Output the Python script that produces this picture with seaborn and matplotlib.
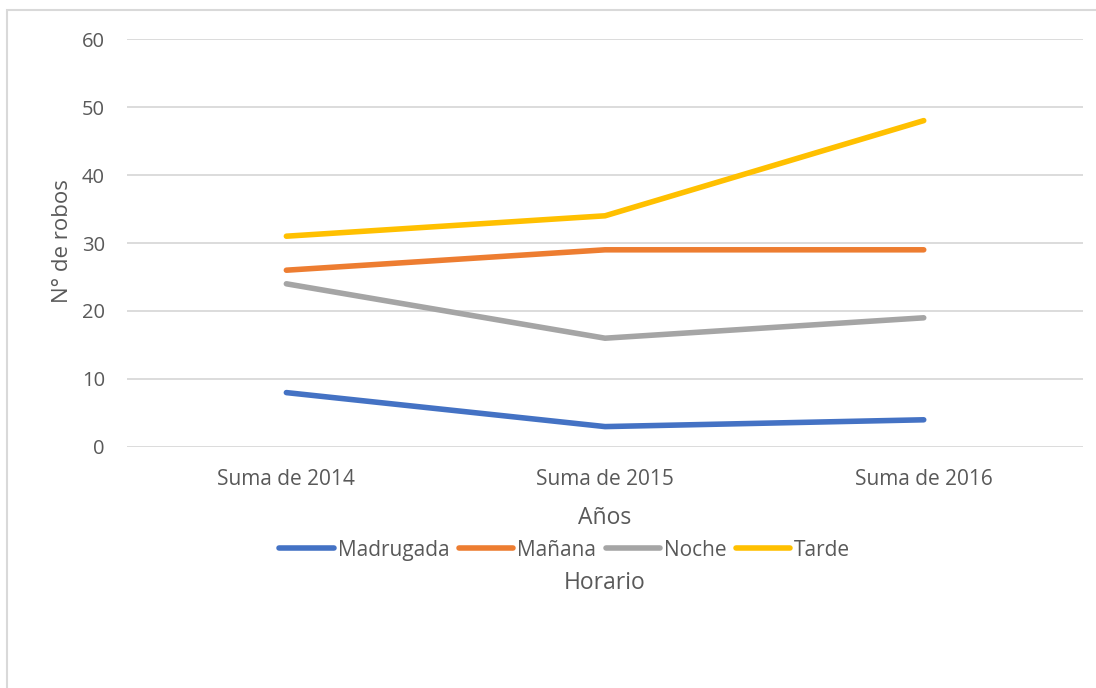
import pandas as pd
import seaborn as sns
from matplotlib import pyplot as plt
from matplotlib.patches import Rectangle

# Data
years = ['Suma de 2014', 'Suma de 2015', 'Suma de 2016']
horarios = ['Madrugada', 'Mañana', 'Noche', 'Tarde']
madrugada = [8, 3, 4]
manana = [26, 29, 29]
noche = [24, 16, 19]
tarde = [31, 34, 48]
colors = ['#4472C4', '#ED7D31', '#A5A5A5', '#FFC000']

# Long format table for seaborn
df = pd.DataFrame({
    'year': years * 4,
    'horario': [h for h in horarios for _ in years],
    'robos': madrugada + manana + noche + tarde,
})

sns.set_style('white')
plt.rcParams['font.family'] = ['Open Sans', 'DejaVu Sans']

fig = plt.figure(figsize=(10.96, 6.88), dpi=100)
ax = fig.add_axes([0.1159, 0.3503, 0.8723, 0.5930])

sns.lineplot(data=df, x='year', y='robos', hue='horario', hue_order=horarios,
             palette=colors, linewidth=4, sort=False, ax=ax,
             solid_capstyle='round')

# Axes look
ax.set_xlim(-0.5, 2.5)
ax.set_ylim(0, 60)
ax.set_yticks(range(0, 61, 10))
ax.grid(axis='y', color='#d9d9d9', linewidth=1.3)
ax.set_axisbelow(True)
for s in ax.spines.values():
    s.set_visible(False)
ax.tick_params(axis='both', length=0, labelsize=14.5, labelcolor='#595959')
ax.tick_params(axis='x', labelsize=15, pad=16)
ax.tick_params(axis='y', pad=16)

ax.set_xlabel('Años', fontsize=16.5, color='#595959', va='center')
ax.xaxis.set_label_coords(0.5, -0.174)
ax.set_ylabel('N° de robos', fontsize=16, color='#595959', va='center')
ax.yaxis.set_label_coords(-0.068, 0.505)

# Legend below the axis title
leg = ax.legend(loc='center', bbox_to_anchor=(0.458, -0.2525), ncol=4, frameon=False,
                fontsize=15, handlelength=2.6, handletextpad=0.2, columnspacing=0.45,
                labelcolor='#595959')
for line in leg.get_lines():
    line.set_solid_capstyle('round')
ax.text(0.5, -0.333, 'Horario', transform=ax.transAxes,
        ha='center', va='center', fontsize=16.5, color='#595959')

# Chart area border
fig.patches.append(Rectangle((7 / 1096, -0.01), 1.1, 1 - 10 / 688 + 0.01,
                             transform=fig.transFigure, fill=False,
                             edgecolor='#d9d9d9', linewidth=1.5))

fig.savefig('out.png', dpi=100)
